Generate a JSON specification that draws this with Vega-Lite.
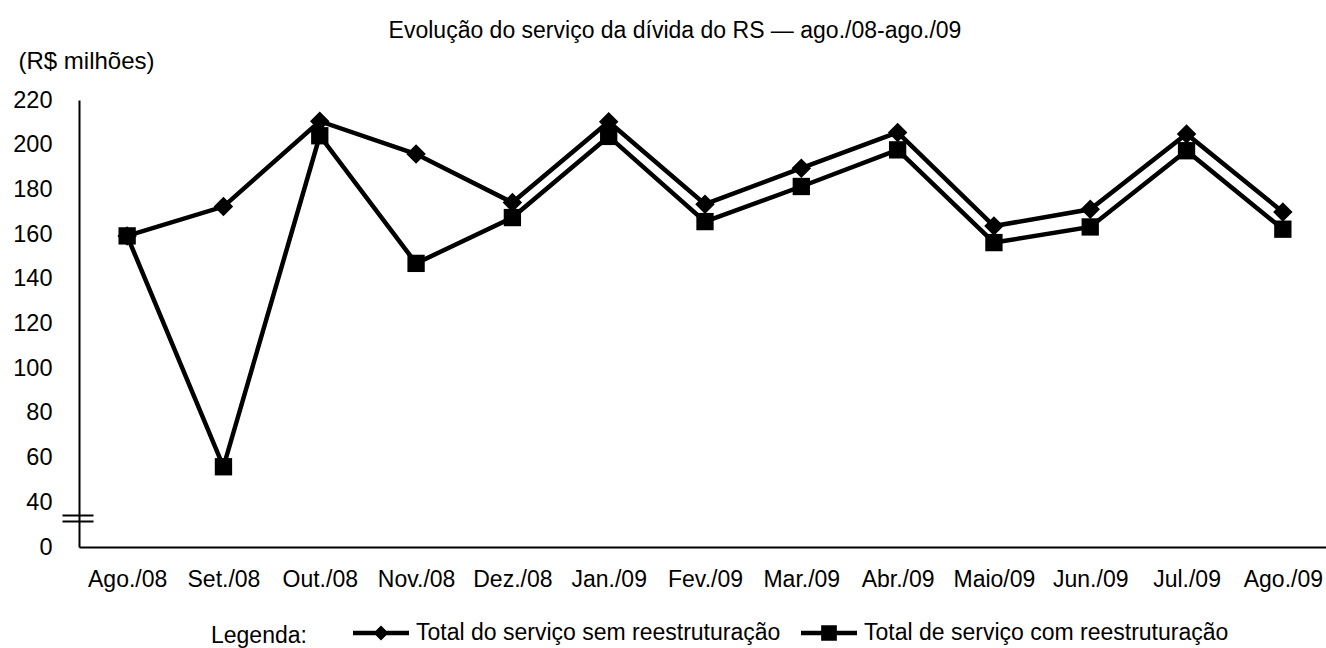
{
  "$schema": "https://vega.github.io/schema/vega-lite/v6.json",
  "width": 1252,
  "height": 447,
  "autosize": {"type": "none"},
  "padding": {"left": 79, "top": 100, "right": 0, "bottom": 101},
  "background": "white",
  "config": {
    "view": {"stroke": null},
    "font": "Liberation Sans",
    "axis": {"labelFont": "Liberation Sans", "titleFont": "Liberation Sans", "labelColor": "black", "titleColor": "black"},
    "legend": {"labelFont": "Liberation Sans", "titleFont": "Liberation Sans", "labelColor": "black", "titleColor": "black"}
  },
  "title": {
    "text": "Evolução do serviço da dívida do RS — ago./08-ago./09",
    "font": "Liberation Sans",
    "fontSize": 23,
    "fontWeight": "normal",
    "color": "black",
    "anchor": "middle",
    "frame": "group",
    "dx": -30,
    "offset": 6
  },
  "data": {
    "values": [
      {"mes": "Ago./08", "serie": "Total do serviço sem reestruturação", "valor": 159.2},
      {"mes": "Set./08", "serie": "Total do serviço sem reestruturação", "valor": 172.3},
      {"mes": "Out./08", "serie": "Total do serviço sem reestruturação", "valor": 210.5},
      {"mes": "Nov./08", "serie": "Total do serviço sem reestruturação", "valor": 195.8},
      {"mes": "Dez./08", "serie": "Total do serviço sem reestruturação", "valor": 174.1},
      {"mes": "Jan./09", "serie": "Total do serviço sem reestruturação", "valor": 210.3},
      {"mes": "Fev./09", "serie": "Total do serviço sem reestruturação", "valor": 173.4},
      {"mes": "Mar./09", "serie": "Total do serviço sem reestruturação", "valor": 189.5},
      {"mes": "Abr./09", "serie": "Total do serviço sem reestruturação", "valor": 205.5},
      {"mes": "Maio/09", "serie": "Total do serviço sem reestruturação", "valor": 163.6},
      {"mes": "Jun./09", "serie": "Total do serviço sem reestruturação", "valor": 171.1},
      {"mes": "Jul./09", "serie": "Total do serviço sem reestruturação", "valor": 204.8},
      {"mes": "Ago./09", "serie": "Total do serviço sem reestruturação", "valor": 169.9},
      {"mes": "Ago./08", "serie": "Total de serviço com reestruturação", "valor": 159.2},
      {"mes": "Set./08", "serie": "Total de serviço com reestruturação", "valor": 55.9},
      {"mes": "Out./08", "serie": "Total de serviço com reestruturação", "valor": 204.0},
      {"mes": "Nov./08", "serie": "Total de serviço com reestruturação", "valor": 146.9},
      {"mes": "Dez./08", "serie": "Total de serviço com reestruturação", "valor": 167.4},
      {"mes": "Jan./09", "serie": "Total de serviço com reestruturação", "valor": 203.7},
      {"mes": "Fev./09", "serie": "Total de serviço com reestruturação", "valor": 165.6},
      {"mes": "Mar./09", "serie": "Total de serviço com reestruturação", "valor": 181.3},
      {"mes": "Abr./09", "serie": "Total de serviço com reestruturação", "valor": 197.7},
      {"mes": "Maio/09", "serie": "Total de serviço com reestruturação", "valor": 156.2},
      {"mes": "Jun./09", "serie": "Total de serviço com reestruturação", "valor": 163.2},
      {"mes": "Jul./09", "serie": "Total de serviço com reestruturação", "valor": 197.3},
      {"mes": "Ago./09", "serie": "Total de serviço com reestruturação", "valor": 162.2}
    ]
  },
  "encoding": {
    "x": {
      "field": "mes",
      "type": "nominal",
      "sort": ["Ago./08", "Set./08", "Out./08", "Nov./08", "Dez./08", "Jan./09", "Fev./09", "Mar./09", "Abr./09", "Maio/09", "Jun./09", "Jul./09", "Ago./09"],
      "scale": {"type": "point", "padding": 0.5},
      "axis": {
        "title": null,
        "labelAngle": 0,
        "ticks": false,
        "grid": false,
        "domainColor": "black",
        "domainWidth": 2,
        "labelFontSize": 23,
        "labelPadding": 21
      }
    }
  },
  "layer": [
    {
      "encoding": {
        "y": {
          "field": "valor",
          "type": "quantitative",
          "scale": {"domain": [20, 220], "nice": false, "zero": false},
          "axis": {
            "values": [20, 40, 60, 80, 100, 120, 140, 160, 180, 200, 220],
            "labelExpr": "datum.value == 20 ? '0' : datum.label",
            "ticks": false,
            "grid": false,
            "domainColor": "black",
            "domainWidth": 2,
            "labelFontSize": 23.5,
            "labelPadding": 27,
            "title": "(R$ milhões)",
            "titleAngle": 0,
            "titleX": -61,
            "titleY": -39,
            "titleAlign": "left",
            "titleBaseline": "middle",
            "titleFontSize": 24,
            "titleFontWeight": "normal"
          }
        }
      },
      "layer": [
        {
          "mark": {"type": "line", "color": "black", "strokeWidth": 4.5, "strokeJoin": "miter"},
          "encoding": {"detail": {"field": "serie", "type": "nominal"}}
        },
        {
          "transform": [{"filter": "datum.serie == 'Total do serviço sem reestruturação'"}],
          "mark": {"type": "point", "shape": "diamond", "filled": true, "color": "black", "opacity": 1, "size": 380}
        },
        {
          "transform": [{"filter": "datum.serie == 'Total de serviço com reestruturação'"}],
          "mark": {"type": "point", "shape": "square", "filled": true, "color": "black", "opacity": 1, "size": 300}
        },
        {
          "mark": {"type": "point", "filled": true, "color": "black", "opacity": 0},
          "encoding": {
            "shape": {
              "field": "serie",
              "type": "nominal",
              "scale": {
                "domain": ["Total do serviço sem reestruturação", "Total de serviço com reestruturação"],
                "range": [
                  "M-1,-0.082H1V0.082H-1Z M0,-0.27L0.27,0L0,0.27L-0.27,0Z",
                  "M-1,-0.082H1V0.082H-1Z M-0.28,-0.28H0.28V0.28H-0.28Z"
                ]
              },
              "legend": {
                "title": "Legenda:",
                "orient": "none",
                "legendX": 132,
                "legendY": 505,
                "padding": 0,
                "direction": "horizontal",
                "titleOrient": "left",
                "titleAnchor": "middle",
                "titleBaseline": "top",
                "titleFontSize": 23,
                "titleFontWeight": "normal",
                "titlePadding": 46,
                "symbolSize": 3136,
                "symbolOpacity": 1,
                "symbolFillColor": "black",
                "symbolStrokeWidth": 0,
                "labelFontSize": 23,
                "labelLimit": 0,
                "labelOffset": 7,
                "columnPadding": 20
              }
            }
          }
        }
      ]
    },
    {
      "mark": {"type": "point", "opacity": 0},
      "encoding": {
        "y": {
          "field": "valor",
          "type": "quantitative",
          "axis": {
            "orient": "left",
            "values": [34.4, 31.7],
            "labels": false,
            "domain": false,
            "grid": false,
            "ticks": true,
            "tickSize": 31,
            "tickWidth": 2,
            "tickColor": "black",
            "offset": -14,
            "title": null
          }
        }
      }
    }
  ],
  "resolve": {"axis": {"y": "independent"}}
}
